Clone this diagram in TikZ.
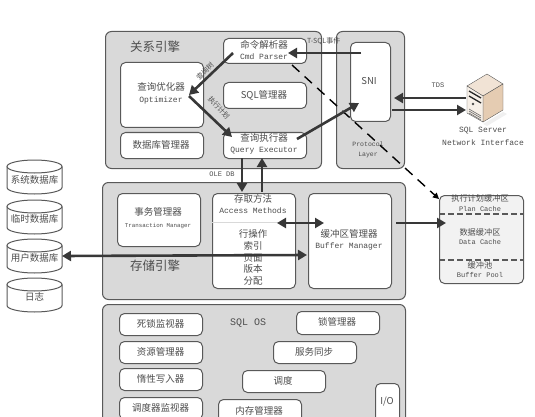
\documentclass[tikz,border=0pt]{standalone}
\usepackage{fontspec}
\setmainfont{Noto Sans CJK SC}
\setmonofont{Liberation Mono}
\usetikzlibrary{arrows.meta}
\definecolor{panelgray}{HTML}{D9D9D9}
\definecolor{edgegray}{HTML}{595959}
\definecolor{arrowgray}{HTML}{383838}
\definecolor{txtgray}{HTML}{4D4D4D}
\tikzset{
 panel/.style={draw=edgegray,line width=1pt,fill=panelgray,rounded corners=6pt},
 box/.style={draw=edgegray,line width=1pt,fill=white,rounded corners=5pt},
 lbl/.style={text=txtgray,font=\fontsize{9.5}{11}\selectfont,inner sep=0pt},
 latin/.style={text=txtgray,font=\fontsize{8}{10}\ttfamily,inner sep=0pt},
 tiny/.style={text=txtgray,font=\fontsize{7}{8}\ttfamily,inner sep=0pt},
 big/.style={text=txtgray,font=\fontsize{12.5}{14}\selectfont,inner sep=0pt},
 cachetxt/.style={text=txtgray,font=\fontsize{8.2}{10}\selectfont,inner sep=0pt},
 flow/.style={draw=arrowgray,line width=2.6pt,-{Triangle[length=9pt,width=10pt]}},
 flowboth/.style={draw=arrowgray,line width=2.6pt,{Triangle[length=9pt,width=10pt]}-{Triangle[length=9pt,width=10pt]}},
 dashflow/.style={draw=black,line width=1.4pt,dash pattern=on 10pt off 7pt,-{Triangle[length=6pt,width=6pt]}},
 dbcap/.style={draw=edgegray,line width=1pt,fill=white},
}
\begin{document}
\begin{tikzpicture}[x=1pt,y=-1pt]
\useasboundingbox (0,0) rectangle (535,417);
\clip (0,0) rectangle (535,417);
% panels
\node[panel,minimum width=216pt,minimum height=137pt,anchor=north west] (relpanel) at (105,31) {};
\node[panel,minimum width=68pt,minimum height=137pt,anchor=north west] (protopanel) at (336,31) {};
\node[panel,minimum width=303pt,minimum height=117pt,anchor=north west] (storepanel) at (102,182) {};
\node[panel,minimum width=303pt,minimum height=130pt,anchor=north west] (ospanel) at (102,304) {};
% relational boxes
\node[box,minimum width=83pt,minimum height=25pt,anchor=north west] (parser) at (223,38) {};
\node[box,minimum width=83pt,minimum height=65pt,anchor=north west] (optimizer) at (120,62) {};
\node[box,minimum width=83pt,minimum height=26pt,anchor=north west] (sqlmgr) at (223,82) {};
\node[box,minimum width=83pt,minimum height=26pt,anchor=north west] (dbmgr) at (120,132) {};
\node[box,minimum width=83pt,minimum height=26pt,anchor=north west] (executor) at (223,132) {};
\node[box,minimum width=40pt,minimum height=79pt,anchor=north west] (sni) at (350,42) {};
\node[big] (t-rel) at (155,47) {关系引擎};
\node[lbl] (t-parser1) at (264,45) {命令解析器};
\node[latin] (t-parser2) at (264,57) {Cmd Parser};
\node[lbl] (t-opt1) at (161,87) {查询优化器};
\node[latin] (t-opt2) at (161,100) {Optimizer};
\node[lbl] (t-sql) at (264,95) {SQL管理器};
\node[lbl] (t-db) at (161,145) {数据库管理器};
\node[lbl] (t-ex1) at (264,138) {查询执行器};
\node[latin] (t-ex2) at (264,151) {Query Executor};
\node[lbl] (t-sni) at (369,81) {SNI};
\node[tiny,font=\fontsize{6.5}{10}\ttfamily,align=center] (t-proto) at (368,150) {Protocol\\Layer};
% storage boxes
\node[box,minimum width=83pt,minimum height=53pt,anchor=north west] (txn) at (117,193) {};
\node[box,minimum width=83pt,minimum height=95pt,anchor=north west] (access) at (212,193) {};
\node[box,minimum width=83pt,minimum height=95pt,anchor=north west] (bufmgr) at (308,193) {};
\draw[panelgray,line width=0.5pt] (access.west |- 0,222) -- (access.east |- 0,222);
\node[lbl] (t-txn1) at (158,212) {事务管理器};
\node[latin,font=\fontsize{5.8}{7}\ttfamily] (t-txn2) at (158,226) {Transaction Manager};
\node[lbl] (t-ac1) at (253,199) {存取方法};
\node[latin] (t-ac2) at (253,211) {Access Methods};
\node[lbl] (t-ac3) at (253,234) {行操作};
\node[lbl] (t-ac4) at (253,246) {索引};
\node[lbl] (t-ac5) at (253,258) {页面};
\node[lbl] (t-ac6) at (253,269) {版本};
\node[lbl] (t-ac7) at (253,281) {分配};
\node[lbl] (t-buf1) at (349,234) {缓冲区管理器};
\node[latin] (t-buf2) at (349,246) {Buffer Manager};
\node[big] (t-store) at (155,266) {存储引擎};
% cache
\node[draw=edgegray,line width=1pt,fill=black!5,rounded corners=5pt,minimum width=84pt,minimum height=88pt,anchor=north west] (cache) at (439,195) {};
\draw[edgegray,line width=1.2pt,dash pattern=on 6pt off 3pt] (cache.west |- 0,214) -- (cache.east |- 0,214);
\draw[edgegray,line width=1.2pt,dash pattern=on 6pt off 3pt] (cache.west |- 0,260) -- (cache.east |- 0,260);
\node[cachetxt] (t-c1) at (480,198) {执行计划缓冲区};
\node[tiny] (t-c2) at (480,209) {Plan Cache};
\node[cachetxt] (t-c3) at (480,232) {数据缓冲区};
\node[tiny] (t-c4) at (480,242) {Data Cache};
\node[cachetxt] (t-c5) at (480,265) {缓冲池};
\node[tiny] (t-c6) at (480,275) {Buffer Pool};
% databases
\foreach \n/\y in {db1/160,db2/200,db3/239,db4/278}{
 \draw[dbcap] (7,\y+6.5) -- (7,\y+27.5) arc[start angle=180,end angle=360,x radius=27.5,y radius=-6.5] -- (62,\y+6.5);
 \draw[dbcap] (34.5,\y+6.5) ellipse[x radius=27.5,y radius=6.5];
 \node[minimum width=55pt,minimum height=34pt,anchor=north west,inner sep=0pt] (\n) at (7,\y) {};
}
\node[lbl] (t-d1) at (34.5,180) {系统数据库};
\node[lbl] (t-d2) at (34.5,219) {临时数据库};
\node[lbl] (t-d3) at (34.5,258) {用户数据库};
\node[lbl] (t-d4) at (34.5,297) {日志};
% OS boxes
\foreach \n/\y/\tx in {os1/313/死锁监视器,os2/341/资源管理器,os3/368/惰性写入器,os4/397/调度器监视器}{
 \node[box,minimum width=83pt,minimum height=22pt,anchor=north west] (\n) at (119,\y) {};
 \node[lbl] (t-\n) at (160.5,\y+11) {\tx};
}
\node[box,minimum width=83pt,minimum height=23pt,anchor=north west] (lock) at (296,311) {};
\node[lbl] (t-lock) at (337,322) {锁管理器};
\node[box,minimum width=83pt,minimum height=22pt,anchor=north west] (sync) at (273,341) {};
\node[lbl] (t-sync) at (314,352) {服务同步};
\node[box,minimum width=83pt,minimum height=22pt,anchor=north west] (sched) at (242,370) {};
\node[lbl] (t-sched) at (283,381) {调度};
\node[box,minimum width=83pt,minimum height=30pt,anchor=north west] (mem) at (218,399) {};
\node[lbl] (t-mem) at (259,411) {内存管理器};
\node[box,minimum width=24pt,minimum height=50pt,anchor=north west] (io) at (375,383) {};
\node[lbl] (t-io) at (387,402) {I/O};
\node[big,font=\fontsize{10}{12}\ttfamily] (t-os) at (248,323) {SQL OS};
% server icon
\fill[black!6] (483,124) -- (503,112) -- (507,114) -- (487,126) -- cycle;
\fill[fill=brown!22!white,draw=edgegray,line width=.4pt] (467,86) -- (487,74) -- (503,84) -- (483,96) -- cycle;
\fill[fill=brown!40!white,draw=edgegray,line width=.4pt] (483,96) -- (503,84) -- (503,110) -- (483,122) -- cycle;
\fill[fill=brown!12!white,draw=edgegray,line width=.4pt] (467,86) -- (483,96) -- (483,122) -- (467,113) -- cycle;
\draw[black!85,line width=1.3pt] (469,91) -- (481,98) (469,96) -- (481,103);
\fill[black!70] (473,104) circle (1.3pt);
\draw[black!60,line width=.6pt] (469,109) -- (481,116) (469,111) -- (481,118) (469,113) -- (481,120);
\coordinate (srvin) at (466,98);
\coordinate (srvout) at (466,110);
% labels
\node[latin] (t-s1) at (483,131) {SQL Server};
\node[latin] (t-s2) at (483,143) {Network Interface};
\node[tiny] (t-tds) at (438,85) {TDS};
\node[lbl,font=\fontsize{7}{8}\selectfont,anchor=west] (t-tsql) at (307,41) {T-SQL事件};
\node[tiny] (t-ole) at (222,174) {OLE DB};
\node[lbl,font=\fontsize{7}{8}\selectfont,rotate=45] (t-tree) at (205,71) {查询树};
\node[lbl,font=\fontsize{7}{8}\selectfont,rotate=-48] (t-plan) at (219,108) {执行计划};
% connector anchors
\coordinate (a1) at (361,53); \coordinate (a2) at (288,53);
\coordinate (b1) at (233,53); \coordinate (b2) at (189,95);
\coordinate (c1) at (189,96); \coordinate (c2) at (232,137);
\coordinate (d1) at (297,139); \coordinate (d2) at (359,103);
\coordinate (e1) at (292,65); \coordinate (e2) at (439,199);
\coordinate (f1) at (242,158); \coordinate (f2) at (242,192);
\coordinate (g1) at (262,192); \coordinate (g2) at (262,158);
\coordinate (h1) at (277,223); \coordinate (h2) at (324,223);
\coordinate (i1) at (62,256); \coordinate (i2) at (307,255);
\coordinate (j1) at (396,223); \coordinate (j2) at (446,223);
\coordinate (k1) at (394,98); \coordinate (k2) at (392,110);
\draw[dashflow] (e1) -- (e2);
\draw[flow] (a1) -- (a2);
\draw[flow] (b1) -- (b2);
\draw[flow] (c1) -- (c2);
\draw[flow] (d1) -- (d2);
\draw[flow] (f1) -- (f2);
\draw[flow] (g1) -- (g2);
\draw[flowboth] (h1) -- (h2);
\draw[flowboth] (i1) -- (i2);
\draw[flow] (j1) -- (j2);
\draw[flow] (srvin) -- (k1);
\draw[flow] (k2) -- (srvout);
\end{tikzpicture}
\end{document}
